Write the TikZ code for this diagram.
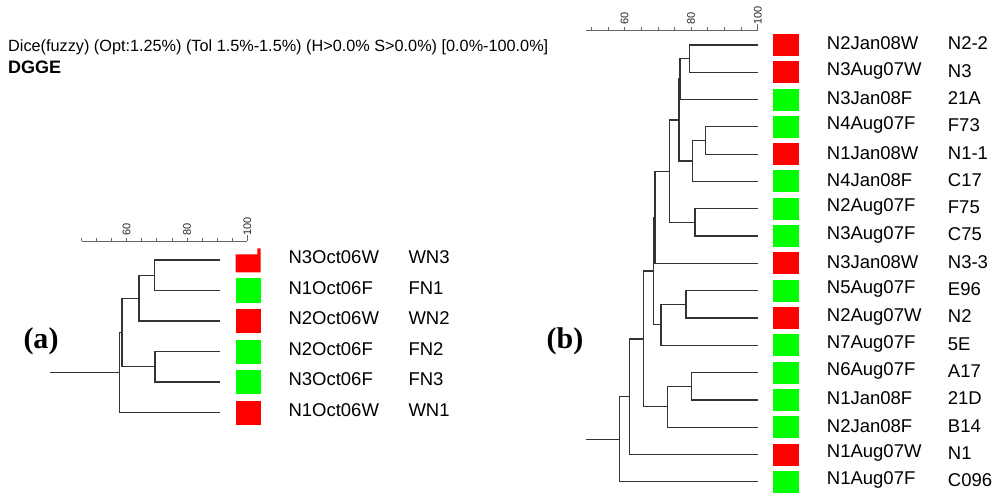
\documentclass[tikz,border=0pt]{standalone}
\usepackage{fontspec}
\setmainfont{Liberation Sans}
\newfontfamily\serifbold{Liberation Serif}
\definecolor{sqred}{HTML}{FF0000}
\definecolor{sqgreen}{HTML}{00FF00}
\definecolor{brc}{HTML}{333333}
\definecolor{axc}{HTML}{666666}
\tikzset{
  br/.style={draw=brc, line width=1.2pt},
  axline/.style={draw=axc, line width=0.8pt},
  lbl/.style={font=\fontsize{18.5}{20}\selectfont, anchor=west, inner sep=0pt},
  ticklbl/.style={font=\fontsize{11}{12}\selectfont, rotate=90, anchor=west, inner sep=0pt, text=black!85},
  sqa/.style={minimum width=25pt, minimum height=24pt, inner sep=0pt, draw=none},
  sqb/.style={minimum width=25.7pt, minimum height=22pt, inner sep=0pt, draw=none},
  paneltag/.style={font=\serifbold\bfseries\fontsize{30}{32}\selectfont, inner sep=0pt}
}
\begin{document}
\begin{tikzpicture}[x=1pt,y=-1pt]
\useasboundingbox (0,0) rectangle (1000,502);
\fill[white] (0,0) rectangle (1000,502);

% title
\node[anchor=west, inner sep=0pt, font=\fontsize{16.25}{18}\selectfont] (title) at (8,47) {Dice(fuzzy) (Opt:1.25\%) (Tol 1.5\%-1.5\%) (H>0.0\% S>0.0\%) [0.0\%-100.0\%]};
\node[anchor=west, inner sep=0pt, font=\bfseries\fontsize{18}{20}\selectfont] (dgge) at (8,67) {DGGE};

% panel tags
\node[paneltag] (taga) at (41,341) {(a)};
\node[paneltag] (tagb) at (565,341) {(b)};

% ===== Panel (a) scale =====
\coordinate (axa0) at (81.5,241);
\coordinate (axa1) at (247.3,241);
\draw[axline] (axa0) -- (axa1);
\foreach \v in {45,50,...,100}{
  \draw[axline] ({247.3-(100-\v)*3.015},241) -- ++(0,-3);
}
\draw[axline] (axa1) -- ++(0,-6);
\foreach \v in {60,80,100}{
  \node[ticklbl] (tla\v) at ({247.3-(100-\v)*3.015},236) {\v};
}

% ===== Panel (a) leaves =====
\foreach \i/\y in {1/260,2/290.5,3/321,4/351.5,5/382,6/412.5}{
  \coordinate (a\i) at (220.3,\y);
}
\coordinate (na1) at (154.3,275.25);
\coordinate (na2) at (139,298.1);
\coordinate (na3) at (155,366.75);
\coordinate (na4) at (122,332.4);
\coordinate (na5) at (119.3,372.45);
\coordinate (ra) at (50,372.45);

\draw[br] (na1) |- (a1); \draw[br] (na1) |- (a2);
\draw[br] (na2) |- (na1); \draw[br] (na2) |- (a3);
\draw[br] (na3) |- (a4); \draw[br] (na3) |- (a5);
\draw[br] (na4) |- (na2); \draw[br] (na4) |- (na3);
\draw[br] (na5) |- (na4); \draw[br] (na5) |- (a6);
\draw[br] (ra) -- (na5);

% squares (a)
\fill[sqred] (235.7,272.3) -- (260.7,272.3) -- (260.7,248.3) -- (257.3,248.3) -- (257.3,254.3) -- (235.7,254.3) -- cycle;
\node[sqa, fill=sqgreen] (sqa2) at (248.2,290.5) {};
\node[sqa, fill=sqred]   (sqa3) at (248.2,321) {};
\node[sqa, fill=sqgreen] (sqa4) at (248.2,351.5) {};
\node[sqa, fill=sqgreen] (sqa5) at (248.2,382) {};
\node[sqa, fill=sqred]   (sqa6) at (248.2,412.5) {};

% labels (a)
\foreach \i/\y/\n/\c in {1/260/N3Oct06W/WN3,2/290.5/N1Oct06F/FN1,3/321/N2Oct06W/WN2,4/351.5/N2Oct06F/FN2,5/382/N3Oct06F/FN3,6/412.5/N1Oct06W/WN1}{
  \node[lbl] (la\i) at (288.3,\y-2.5) {\n};
  \node[lbl] (ca\i) at (408.3,\y-2.5) {\c};
}

% ===== Panel (b) scale =====
\coordinate (axb0) at (586,30);
\coordinate (axb1) at (757.7,30);
\draw[axline] (axb0) -- (axb1);
\foreach \v in {50,55,...,100}{
  \draw[axline] ({757.7-(100-\v)*3.325},30) -- ++(0,-3);
}
\draw[axline] (axb1) -- ++(0,-6);
\foreach \v in {60,80,100}{
  \node[ticklbl] (tlb\v) at ({757.7-(100-\v)*3.325},25) {\v};
}

% ===== Panel (b) leaves =====
\foreach \i in {1,...,17}{
  \coordinate (b\i) at (758,{45+27.3*(\i-1)});
}
\coordinate (nA)  at (689.3,58.65);
\coordinate (nB)  at (680,79.1);
\coordinate (nDd) at (705.7,140.55);
\coordinate (nD)  at (692.7,161.0);
\coordinate (nC)  at (679,120.05);
\coordinate (nE)  at (695,222.45);
\coordinate (nF)  at (669.3,171.25);
\coordinate (nG)  at (655,217.3);
\coordinate (nI1) at (686,304.35);
\coordinate (nI)  at (661,324.8);
\coordinate (nH)  at (653.5,271.05);
\coordinate (nJ1) at (691.7,386.25);
\coordinate (nJ)  at (667.3,406.7);
\coordinate (nK)  at (643.3,338.9);
\coordinate (nL)  at (629.3,396.7);
\coordinate (nM)  at (619.3,439.25);
\coordinate (rb)  at (586,439.25);

\draw[br] (nA) |- (b1); \draw[br] (nA) |- (b2);
\draw[br] (nB) |- (nA); \draw[br] (nB) |- (b3);
\draw[br] (nDd) |- (b4); \draw[br] (nDd) |- (b5);
\draw[br] (nD) |- (nDd); \draw[br] (nD) |- (b6);
\draw[br] (nC) |- (nB); \draw[br] (nC) |- (nD);
\draw[br] (nE) |- (b7); \draw[br] (nE) |- (b8);
\draw[br] (nF) |- (nC); \draw[br] (nF) |- (nE);
\draw[br] (nG) |- (nF); \draw[br] (nG) |- (b9);
\draw[br] (nI1) |- (b10); \draw[br] (nI1) |- (b11);
\draw[br] (nI) |- (nI1); \draw[br] (nI) |- (b12);
\draw[br] (nH) |- (nG); \draw[br] (nH) |- (nI);
\draw[br] (nJ1) |- (b13); \draw[br] (nJ1) |- (b14);
\draw[br] (nJ) |- (nJ1); \draw[br] (nJ) |- (b15);
\draw[br] (nK) |- (nH); \draw[br] (nK) |- (nJ);
\draw[br] (nL) |- (nK); \draw[br] (nL) |- (b16);
\draw[br] (nM) |- (nL); \draw[br] (nM) |- (b17);
\draw[br] (rb) -- (nM);

% squares and labels (b)
\foreach \i/\n/\c/\col in {1/N2Jan08W/N2-2/sqred,2/N3Aug07W/N3/sqred,3/N3Jan08F/21A/sqgreen,4/N4Aug07F/F73/sqgreen,5/N1Jan08W/N1-1/sqred,6/N4Jan08F/C17/sqgreen,7/N2Aug07F/F75/sqgreen,8/N3Aug07F/C75/sqgreen,9/N3Jan08W/N3-3/sqred,10/N5Aug07F/E96/sqgreen,11/N2Aug07W/N2/sqred,12/N7Aug07F/5E/sqgreen,13/N6Aug07F/A17/sqgreen,14/N1Jan08F/21D/sqgreen,15/N2Jan08F/B14/sqgreen,16/N1Aug07W/N1/sqred,17/N1Aug07F/C096/sqgreen}{
  \node[sqb, fill=\col] (sqb\i) at (786.15,{45+27.3*(\i-1)}) {};
  \node[lbl] (lb\i) at (826.7,{45+27.3*(\i-1)-1.5}) {\n};
  \node[lbl] (cb\i) at (947.7,{45+27.3*(\i-1)-1.5}) {\c};
}
\end{tikzpicture}
\end{document}
